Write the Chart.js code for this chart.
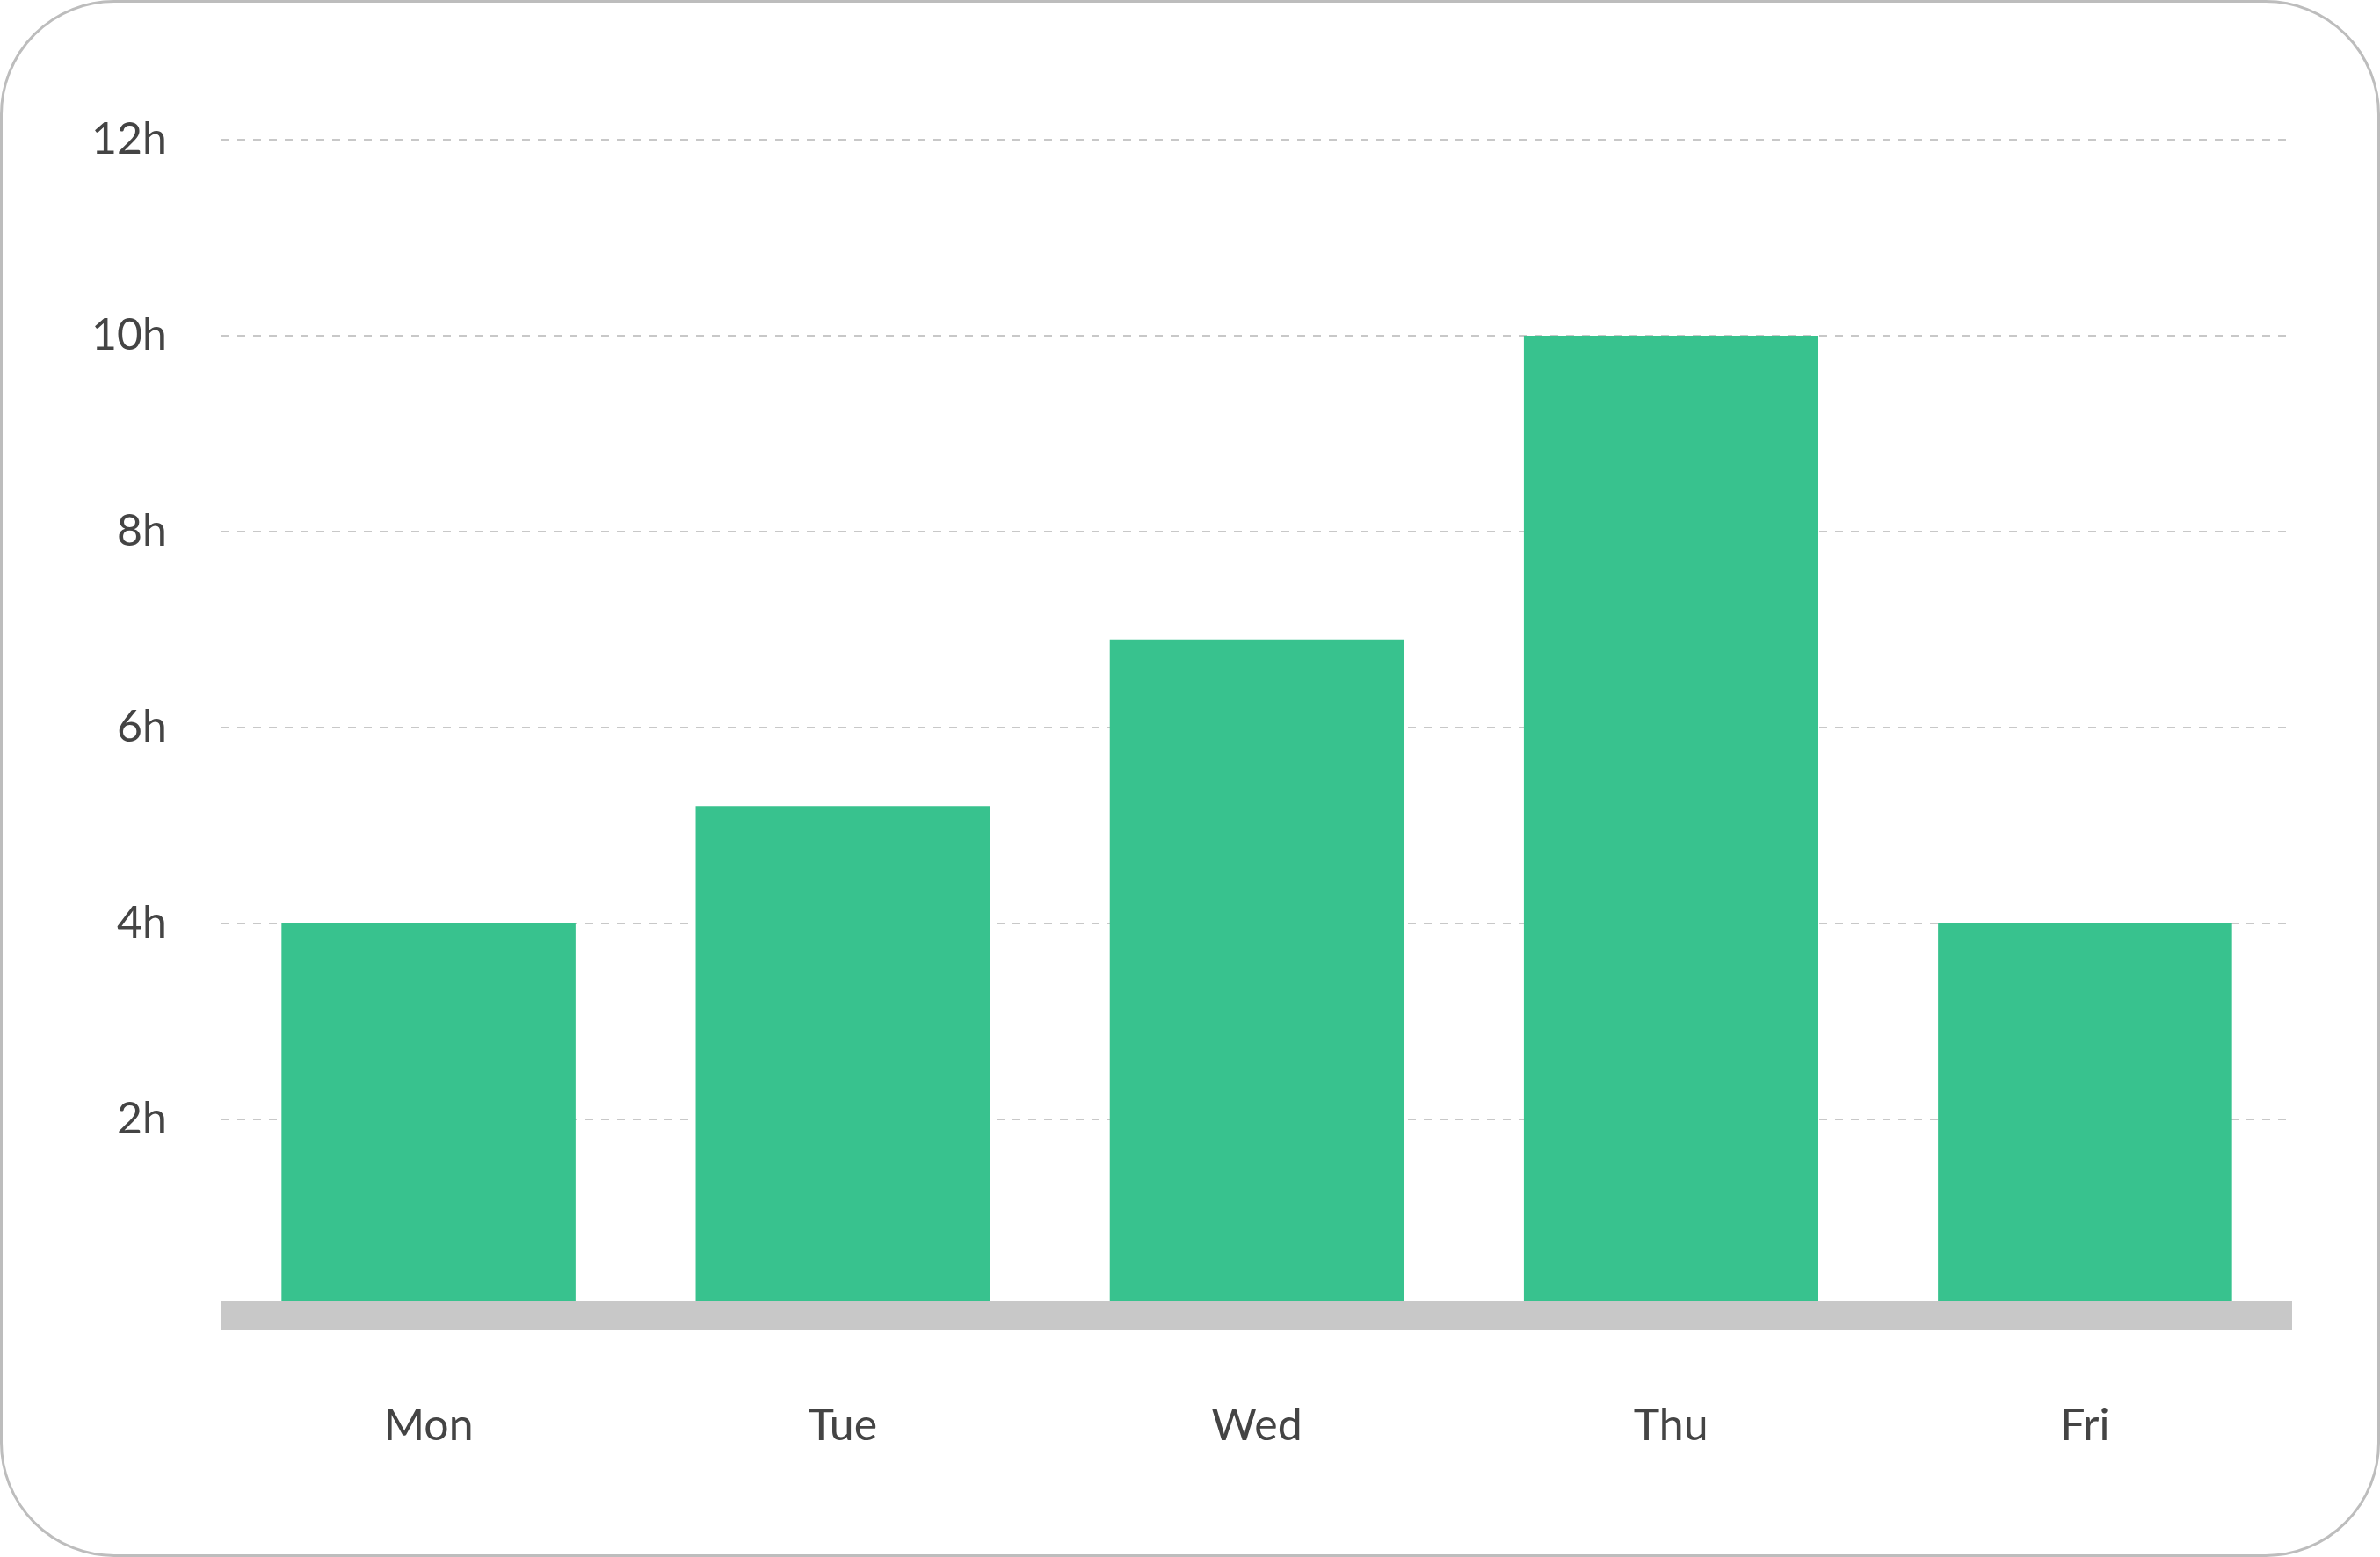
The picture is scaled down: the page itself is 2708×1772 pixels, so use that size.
<!DOCTYPE html>
<html><head><meta charset="utf-8">
<script src="https://cdn.jsdelivr.net/npm/chart.js@4/dist/chart.umd.min.js"></script>
<style>
html,body{margin:0;padding:0;background:#fff;}
#card{position:absolute;left:0;top:0;width:2708px;height:1772px;box-sizing:border-box;border:3px solid #bdbdbd;border-radius:130px;}
#wrap{position:absolute;left:0;top:0;width:2708px;height:1772px;}
</style></head><body>
<div id="card"></div>
<div id="wrap"><canvas id="c" width="2708" height="1772"></canvas></div>
<script>
const categories=["Mon","Tue","Wed","Thu","Fri"];
const hours=[4,5.2,6.9,10,4];
const yTicks=[0,2,4,6,8,10,12];

const baseline={id:'baseline',afterDatasetsDraw(chart){
  const {ctx,scales:{x,y}}=chart;
  const yy=y.getPixelForValue(0);
  ctx.save();ctx.fillStyle='#c8c8c8';
  ctx.fillRect(x.left,yy-16,x.right-x.left,33);ctx.restore();
}};

new Chart(document.getElementById('c'),{
  type:'bar',
  data:{labels:categories,datasets:[{data:hours,backgroundColor:'#38c28e',barPercentage:0.71,categoryPercentage:1}]},
  options:{responsive:false,animation:false,
    layout:{padding:{left:60,right:100,top:159,bottom:0}},
    plugins:{legend:{display:false},tooltip:{enabled:false}},
    scales:{
      x:{grid:{display:false},border:{display:false},
         ticks:{color:'#444',font:{family:'Lato',size:50},padding:88},
         afterFit(s){s.height=275;}},
      y:{min:0,max:12,afterBuildTicks(s){s.ticks=yTicks.map(v=>({value:v}));},
         grid:{color:'#c8c8c8',lineWidth:2,drawTicks:false},
         border:{display:false,dash:[9,9]},
         ticks:{color:'#444',font:{family:'Lato',size:50},padding:62,callback:v=>v===0?'':v+'h'},
         afterFit(s){s.width=192;}}
    }},
  plugins:[baseline]
});
</script></body></html>
